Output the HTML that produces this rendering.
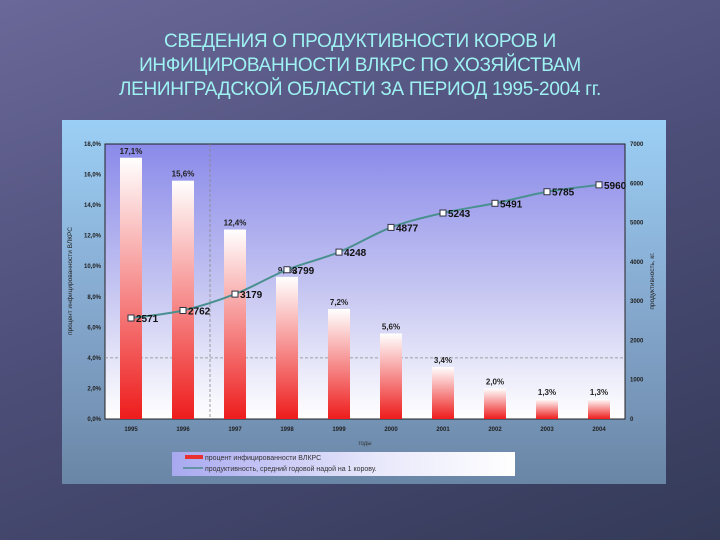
<!DOCTYPE html>
<html><head><meta charset="utf-8">
<style>
html,body{margin:0;padding:0}
body{width:720px;height:540px;overflow:hidden;background:linear-gradient(160deg,#6a6898 0%,#4e4f7a 45%,#343a58 100%);font-family:"Liberation Sans",sans-serif;position:relative}
.title{position:absolute;left:0;top:30px;width:720px;text-align:center;color:#9ef2f2;font-size:19px;line-height:24px;letter-spacing:-0.3px}
</style></head><body>
<div class="title">СВЕДЕНИЯ О ПРОДУКТИВНОСТИ КОРОВ И<br>ИНФИЦИРОВАННОСТИ ВЛКРС ПО ХОЗЯЙСТВАМ<br>ЛЕНИНГРАДСКОЙ ОБЛАСТИ ЗА ПЕРИОД 1995-2004 гг.</div>
<svg id="chart" width="720" height="540" style="position:absolute;left:0;top:0">
<defs>
<linearGradient id="panel" x1="0" y1="0" x2="0" y2="1"><stop offset="0" stop-color="#9ccff5"/><stop offset="0.5" stop-color="#86a9cf"/><stop offset="1" stop-color="#6a86a6"/></linearGradient>
<linearGradient id="plot" x1="0" y1="0" x2="0" y2="1"><stop offset="0" stop-color="#8a8aea"/><stop offset="0.55" stop-color="#c8c8f2"/><stop offset="1" stop-color="#ffffff"/></linearGradient>
<linearGradient id="bar" x1="0" y1="0" x2="0" y2="1"><stop offset="0" stop-color="#ffffff"/><stop offset="1" stop-color="#ee1c1c"/></linearGradient>
<linearGradient id="leg" x1="0" y1="0" x2="1" y2="0"><stop offset="0" stop-color="#a8a8f0"/><stop offset="0.6" stop-color="#e8e8fb"/><stop offset="1" stop-color="#ffffff"/></linearGradient>
</defs>
<rect x="62" y="120" width="604" height="364" fill="url(#panel)"/>
<rect x="105" y="144" width="520" height="275" fill="url(#plot)" stroke="#222" stroke-width="1"/>
<g id="g"></g>
<rect x="172" y="452" width="343" height="24" fill="url(#leg)"/>
<rect x="185" y="455" width="18" height="4" fill="#e83030"/>
<text x="205" y="460" font-size="7" fill="#333">процент инфицированности ВЛКРС</text>
<line x1="183" y1="468" x2="203" y2="468" stroke="#4a8a8a" stroke-width="1.5"/>
<text x="205" y="471" font-size="7" fill="#333">продуктивность, средний годовой надой на 1 корову.</text>
<text x="365" y="445" font-size="6" fill="#333" text-anchor="middle">годы</text>
<text transform="translate(72,281) rotate(-90)" font-size="6.5" fill="#222" text-anchor="middle">процент инфицированности ВЛКРС</text>
<text transform="translate(654,281) rotate(-90)" font-size="6.5" fill="#222" text-anchor="middle">продуктивность, кг.</text>
</svg>
<script>
const years=["1995","1996","1997","1998","1999","2000","2001","2002","2003","2004"];
const infection=[17.1,15.6,12.4,9.3,7.2,5.6,3.4,2.0,1.3,1.3];
const infectionLabels=["17,1%","15,6%","12,4%","9,3%","7,2%","5,6%","3,4%","2,0%","1,3%","1,3%"];
const milk=[2571,2762,3179,3799,4248,4877,5243,5491,5785,5960];
const leftTicks=[0,2,4,6,8,10,12,14,16,18];
const rightTicks=[0,1000,2000,3000,4000,5000,6000,7000];
const NS="http://www.w3.org/2000/svg";
const g=document.getElementById('g');
const L=105,R=625,T=144,B=419;
const xc=i=>L+(R-L)/years.length*(i+0.5);
const yl=v=>B-v/18*(B-T);
const yr=v=>B-v/7000*(B-T);
function mk(tag,a){const e=document.createElementNS(NS,tag);for(const k in a)e.setAttribute(k,a[k]);g.appendChild(e);return e;}
let e=mk('line',{x1:L,x2:R,y1:yl(4),y2:yl(4),stroke:'#888','stroke-dasharray':'3,2','stroke-width':0.8});

e=mk('line',{x1:210,x2:210,y1:T,y2:B,stroke:'#888','stroke-dasharray':'3,2','stroke-width':0.8});

leftTicks.forEach(v=>{
  const t=mk('text',{x:L-4,y:yl(v)+2,'font-size':6,'font-weight':'bold',fill:'#222','text-anchor':'end'});
  t.textContent=v.toFixed(1).replace('.',',')+'%';
  
});
rightTicks.forEach(v=>{
  const t=mk('text',{x:R+5,y:yr(v)+2,'font-size':6,'font-weight':'bold',fill:'#222'});
  t.textContent=v;
  
});
years.forEach((y,i)=>{
  const b=mk('rect',{x:xc(i)-11,y:yl(infection[i]),width:22,height:B-yl(infection[i]),fill:'url(#bar)'});
  
  const t=mk('text',{x:xc(i),y:yl(infection[i])-4,'font-size':8,'font-weight':'bold',fill:'#222','text-anchor':'middle'});
  t.textContent=infectionLabels[i];
  
  const xt=mk('text',{x:xc(i),y:B+12,'font-size':6,'font-weight':'bold',fill:'#222','text-anchor':'middle'});
  xt.textContent=y;
  
});
const pts=milk.map((v,i)=>[xc(i),yr(v)]);
let d='M'+pts[0][0]+','+pts[0][1];
for(let i=0;i<pts.length-1;i++){
  const p0=pts[Math.max(0,i-1)],p1=pts[i],p2=pts[i+1],p3=pts[Math.min(pts.length-1,i+2)];
  const c1=[p1[0]+(p2[0]-p0[0])/6,p1[1]+(p2[1]-p0[1])/6];
  const c2=[p2[0]-(p3[0]-p1[0])/6,p2[1]-(p3[1]-p1[1])/6];
  d+='C'+c1[0]+','+c1[1]+' '+c2[0]+','+c2[1]+' '+p2[0]+','+p2[1];
}
const p=mk('path',{d:d,fill:'none',stroke:'#4a9090','stroke-width':2});

milk.forEach((v,i)=>{
  const m=mk('rect',{x:xc(i)-3,y:yr(v)-3,width:6,height:6,fill:'#fff',stroke:'#334',"stroke-width":1});
  
  const t=mk('text',{x:xc(i)+5,y:yr(v)+4,'font-size':10,'font-weight':'bold',fill:'#111'});
  t.textContent=v;
  
});
</script>
</body></html>
